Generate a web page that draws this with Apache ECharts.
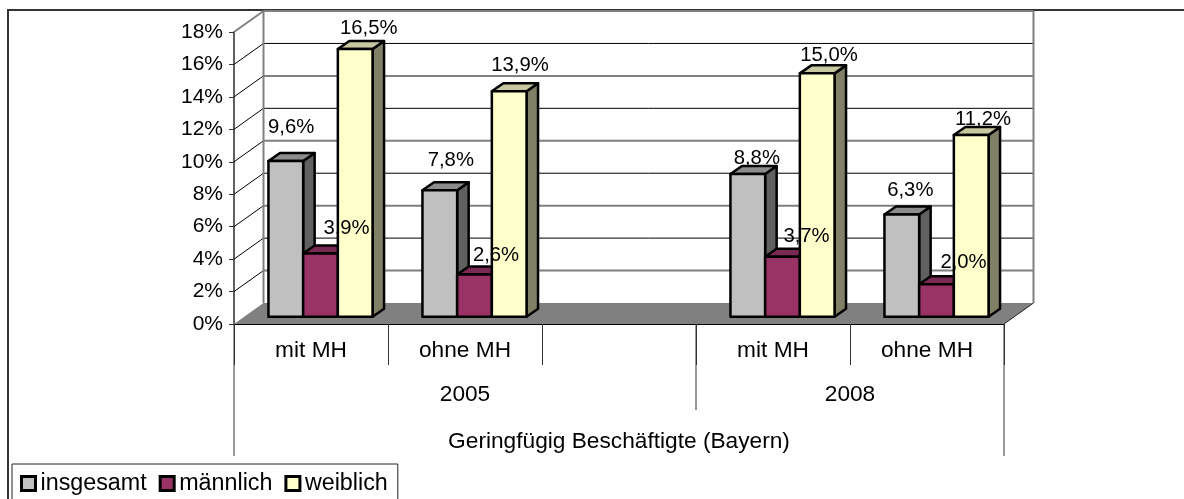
<!DOCTYPE html>
<html>
<head>
<meta charset="utf-8">
<style>html,body{margin:0;padding:0;background:#fff}#c{width:1184px;height:499px}</style>
<script src="https://cdn.jsdelivr.net/npm/echarts@6/dist/echarts.min.js"></script>
</head>
<body>
<div id="c"></div>
<script>
// ---- data ----
const categories = ['mit MH', 'ohne MH', '', 'mit MH', 'ohne MH'];
const insgesamt = [9.6, 7.8, null, 8.8, 6.3];
const maennlich = [3.9, 2.6, null, 3.7, 2.0];
const weiblich  = [16.5, 13.9, null, 15.0, 11.2];
const yearLabels = ['2005', '2008'];
const yearCenters = [1, 3.5];          // in category units
const outerLabel = ['Geringfügig Beschäftigte (Bayern)'];
const outerCenter = [2];
const yTicks = [2, 4, 6, 8, 10, 12, 14, 16, 18];
const longTicks = [0, 3, 5];           // category boundaries with deeper separators

// ---- style ----
const FONT = '"Liberation Sans", Arial, sans-serif';
const AXIS_SIZE = 22.7;
const WALL = { dx: 29.5, dy: 21 };
const INSET = { dx: 9.5, dy: 7.3 };
const DEPTH = { dx: 11.5, dy: 8 };
const BAR_W = 34.7;
const palette = {
  insgesamt: { front: '#C0C0C0', side: '#606060', top: '#8C8C8C' },
  maennlich: { front: '#993366', side: '#7A2952', top: '#7A2952' },
  weiblich:  { front: '#FFFFCC', side: '#808066', top: '#C8C8A0' }
};
// label baseline offset from the bar's front-top centre
const nudgeInsgesamt = [[5.4, -28], [11, -23.6], null, [9, -10], [8.5, -18]];
const nudgeMaennlich = [[26, -19.5], [21.5, -13], null, [24, -15], [27, -16.3]];
const nudgeWeiblich  = [[13.5, -15.4], [10.8, -20.5], null, [11.8, -12.7], [11.8, -10.3]];

const fmt = v => v.toFixed(1).replace('.', ',') + '%';

function barSeries(name, values, slot, pal, nudge) {
  return {
    name, type: 'custom', coordinateSystem: 'cartesian2d', z: 3,
    itemStyle: { color: pal.front, borderColor: '#000', borderWidth: 2.5 },
    encode: { x: 0, y: 1 },
    data: values.map((v, i) => [i, v]).filter(d => d[1] != null),
    renderItem(params, api) {
      const i = api.value(0), v = api.value(1);
      const base = api.coord([i, 0]);
      const top = api.coord([i, v]);
      const cx = base[0] + INSET.dx + (slot - 1) * BAR_W;
      const x0 = cx - BAR_W / 2, x1 = cx + BAR_W / 2;
      const yb = base[1] - INSET.dy, yt = top[1] - INSET.dy;
      const d = DEPTH;
      const st = { stroke: '#000', lineWidth: 2.5, lineJoin: 'round' };
      const n = nudge[i];
      return {
        type: 'group',
        children: [
          { type: 'polygon', shape: { points: [[x1, yb], [x1 + d.dx, yb - d.dy], [x1 + d.dx, yt - d.dy], [x1, yt]] },
            style: Object.assign({ fill: pal.side }, st) },
          { type: 'polygon', shape: { points: [[x0, yt], [x1, yt], [x1 + d.dx, yt - d.dy], [x0 + d.dx, yt - d.dy]] },
            style: Object.assign({ fill: pal.top }, st) },
          { type: 'rect', shape: { x: x0, y: yt, width: BAR_W, height: yb - yt },
            style: Object.assign({ fill: pal.front }, st) },
          { type: 'text', z2: 100,
            style: { text: fmt(v), x: cx + n[0], y: yt + n[1] - 5.7, font: '20.3px ' + FONT, fill: '#000',
                     textAlign: 'center', textVerticalAlign: 'middle' } }
        ]
      };
    }
  };
}

const wallSeries = {
  type: 'custom', coordinateSystem: 'cartesian2d', z: 1, silent: true,
  encode: { x: 0, y: 1 },
  data: yTicks.map(t => [0, t]),
  renderItem(params, api) {
    const t = api.value(1);
    const band = api.size([1, 0])[0];
    const p = api.coord([0, t]);
    const xl = p[0] - band / 2;
    const xr = xl + band * categories.length;
    const thin = t % 4 === 0;
    const c = thin ? '#000' : '#808080', w = thin ? 1 : 2;
    const children = [
      { type: 'line', shape: { x1: xl, y1: p[1], x2: xl + WALL.dx, y2: p[1] - WALL.dy },
        style: { stroke: t === 18 ? '#808080' : '#000', lineWidth: t === 18 ? 2 : 1 } }
    ];
    if (t !== 18) {
      children.push({ type: 'line', shape: { x1: xl + WALL.dx, y1: p[1] - WALL.dy, x2: xr + WALL.dx, y2: p[1] - WALL.dy },
        style: { stroke: c, lineWidth: w } });
    } else {
      const y0 = api.coord([0, 0])[1];
      const wy = p[1] - WALL.dy;
      children.push(
        { type: 'line', shape: { x1: xl + WALL.dx, y1: wy, x2: xr + WALL.dx, y2: wy }, style: { stroke: '#808080', lineWidth: 2 } },
        { type: 'line', shape: { x1: xl + WALL.dx, y1: wy, x2: xl + WALL.dx, y2: y0 - WALL.dy }, style: { stroke: '#808080', lineWidth: 2 } },
        { type: 'line', shape: { x1: xr + WALL.dx, y1: wy, x2: xr + WALL.dx, y2: y0 - WALL.dy }, style: { stroke: '#808080', lineWidth: 2 } },
        { type: 'polygon', shape: { points: [[xl, y0], [xr, y0], [xr + WALL.dx, y0 - WALL.dy], [xl + WALL.dx, y0 - WALL.dy]] },
          style: { fill: '#808080', stroke: 'none' } },
        { type: 'line', shape: { x1: xr, y1: y0, x2: xr + WALL.dx, y2: y0 - WALL.dy }, style: { stroke: '#222', lineWidth: 1 } }
      );
    }
    return { type: 'group', children };
  }
};

function axisTextSeries(labels, centers, offsetY) {
  return {
    type: 'custom', coordinateSystem: 'cartesian2d', z: 2, silent: true,
    encode: { x: 0, y: 1 },
    data: labels.map((l, i) => [centers[i], 0, l]),
    renderItem(params, api) {
      const band = api.size([1, 0])[0];
      const idx = params.dataIndex;
      const f = centers[idx];
      const p = api.coord([0, 0]);
      return { type: 'text', style: { text: labels[idx], x: p[0] + f * band, y: p[1] + offsetY,
        font: AXIS_SIZE + 'px ' + FONT, fill: '#000', textAlign: 'center', textVerticalAlign: 'middle' } };
    }
  };
}

const longTickSeries = {
  type: 'custom', coordinateSystem: 'cartesian2d', z: 2, silent: true,
  encode: { x: 0, y: 1 },
  data: longTicks.map(b => [0, 0, b]),
  renderItem(params, api) {
    const b = longTicks[params.dataIndex];
    const band = api.size([1, 0])[0];
    const p = api.coord([0, 0]);
    const x = p[0] + (b - 0.5) * band;
    const len = (b === 3) ? 86 : 132;
    return { type: 'line', shape: { x1: x, y1: p[1], x2: x, y2: p[1] + len }, style: { stroke: '#333', lineWidth: 1 } };
  }
};

const chart = echarts.init(document.getElementById('c'), null, { renderer: 'canvas' });
chart.setOption({
  animation: false,
  backgroundColor: '#fff',
  textStyle: { fontFamily: FONT },
  grid: { left: 234, right: 180, top: 32, bottom: 175 },
  graphic: [
    { type: 'polyline', silent: true, shape: { points: [[8, 499], [8, 10], [1184, 10]] },
      style: { stroke: '#333', lineWidth: 2, fill: 'none' } }
  ],
  legend: {
    left: 12, top: 464, orient: 'horizontal', selectedMode: false,
    backgroundColor: '#fff', borderColor: '#222', borderWidth: 1,
    padding: [8, 10, 20, 8], itemGap: 12, itemWidth: 14, itemHeight: 14,
    textStyle: { fontSize: 23.3, color: '#000', fontFamily: FONT },
    data: [
      { name: 'insgesamt', icon: 'rect', itemStyle: { color: palette.insgesamt.front, borderColor: '#000', borderWidth: 3 } },
      { name: 'männlich', icon: 'rect', itemStyle: { color: palette.maennlich.front, borderColor: '#000', borderWidth: 3 } },
      { name: 'weiblich', icon: 'rect', itemStyle: { color: palette.weiblich.front, borderColor: '#000', borderWidth: 3 } }
    ]
  },
  xAxis: {
    type: 'category', data: categories, boundaryGap: true,
    axisLine: { lineStyle: { color: '#000', width: 1 } },
    axisTick: { show: true, alignWithLabel: false, interval: 0, length: 41, lineStyle: { color: '#333', width: 1 } },
    axisLabel: { interval: 0, margin: 15, fontSize: AXIS_SIZE, color: '#000', fontFamily: FONT },
    splitLine: { show: false }
  },
  yAxis: {
    type: 'value', min: 0, max: 18, interval: 2,
    axisLine: { show: true, lineStyle: { color: '#606060', width: 2 } },
    axisTick: { show: true, length: 5, lineStyle: { color: '#333', width: 1 } },
    axisLabel: { margin: 11, fontSize: 21, color: '#000', fontFamily: FONT, formatter: v => v + '%' },
    splitLine: { show: false }
  },
  series: [
    wallSeries,
    longTickSeries,
    axisTextSeries(yearLabels, yearCenters, 71),
    axisTextSeries(outerLabel, outerCenter, 118),
    barSeries('insgesamt', insgesamt, 0, palette.insgesamt, nudgeInsgesamt),
    barSeries('männlich', maennlich, 1, palette.maennlich, nudgeMaennlich),
    barSeries('weiblich', weiblich, 2, palette.weiblich, nudgeWeiblich)
  ]
});
</script>
</body>
</html>
